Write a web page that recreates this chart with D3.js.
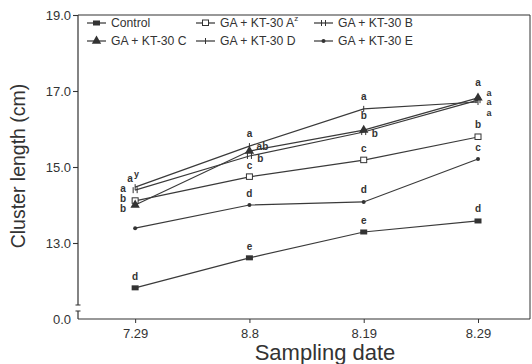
<!DOCTYPE html>
<html><head><meta charset="utf-8">
<script src="https://cdn.jsdelivr.net/npm/d3@7"></script>
<style>
html,body{margin:0;padding:0;background:#fff;}
svg{display:block;font-family:"Liberation Sans",Arial,sans-serif;}
</style></head>
<body><svg id="c" width="532" height="364"></svg>
<script>
// ---- data ----
const dates = ["7.29", "8.8", "8.19", "8.29"];
const seriesNames = ["Control", "GA+KT-30 A", "GA+KT-30 B", "GA+KT-30 C", "GA+KT-30 D", "GA+KT-30 E"];
const controlVals = [11.82, 12.61, 13.29, 13.58];
const aVals = [14.11, 14.74, 15.18, 15.79];
const bVals = [14.39, 15.29, 15.92, 16.76];
const cVals = [14.00, 15.42, 15.97, 16.82];
const dVals = [14.47, 15.55, 16.53, 16.71];
const eVals = [13.39, 14.00, 14.08, 15.21];
const controlLetters = ["d", "e", "e", "d"];
const aLetters = ["b", "c", "c", "b"];
const bLetters = ["a", "b", "b", "a"];
const cLetters = ["b", "ab", "b", "a"];
const dLetters = ["a", "a", "a", "a"];
const eLetters = ["", "d", "d", "c"];
const yTicks = [11, 13, 15, 17, 19];
const yTickText = ["0.0", "13.0", "15.0", "17.0", "19.0"];

// ---- layout / style ----
const L = 78, R = 530, T = 15, B = 319;
const ink = "#333";
const svg = d3.select("#c");
const x = d3.scaleLinear().domain([-0.5, 3.455]).range([L, R]);
const y = d3.scaleLinear().domain([11, 19]).range([B, T]);

const series = [
  {name: seriesNames[0], vals: controlVals, let: controlLetters, mk: "square"},
  {name: seriesNames[1], vals: aVals, let: aLetters, mk: "open"},
  {name: seriesNames[2], vals: bVals, let: bLetters, mk: "double"},
  {name: seriesNames[3], vals: cVals, let: cLetters, mk: "tri"},
  {name: seriesNames[4], vals: dVals, let: dLetters, mk: "plus"},
  {name: seriesNames[5], vals: eVals, let: eLetters, mk: "dot"}
];
// letter placement: [dx, dy] relative to point (baseline)
const letterPos = {
  "0": [[0,-8],[0,-8],[0,-8],[0,-9]],
  "1": [[-12,1],[0,-8],[0,-8],[0,-9]],
  "2": [[-12,2],[11,6],[11,5],[11,-4]],
  "3": [[-12,7],[13,-1],[0,-11],[0,-12]],
  "4": [[-2,-5],[0,-9],[0,-9],[11,14]],
  "5": [[0,-8],[0,-8],[0,-9],[0,-8]]
};

// frame
svg.append("line").attr("x1", L).attr("x2", R).attr("y1", T).attr("y2", T)
  .attr("stroke", ink).attr("stroke-width", 1.2);
svg.append("line").attr("x1", R).attr("x2", R).attr("y1", T).attr("y2", B)
  .attr("stroke", ink).attr("stroke-width", 1);

// y axis with break
const ya = svg.append("g").attr("transform", `translate(${L},0)`)
  .call(d3.axisLeft(y).tickValues(yTicks).tickSize(5).tickSizeOuter(0)
    .tickFormat((d, i) => yTickText[i]));
ya.select(".domain").remove();
ya.selectAll(".tick line").attr("stroke", ink).attr("stroke-width", 1.1)
  .filter(d => d === 11).remove();
ya.selectAll(".tick text").attr("font-size", 13).attr("fill", ink).attr("x", -7)
  .attr("font-family", "Liberation Sans, Arial, sans-serif");
const brkTop = 305, brkBot = 311;
svg.append("path").attr("d", `M${L},${T}V${brkTop}M${L-2.5},${brkTop}H${L+2.5}M${L-2.5},${brkBot}H${L+2.5}M${L},${brkBot}V${B}`)
  .attr("stroke", ink).attr("stroke-width", 1.2).attr("fill", "none");

// x axis
const xa = svg.append("g").attr("transform", `translate(0,${B})`)
  .call(d3.axisBottom(x).tickValues(d3.range(dates.length)).tickSize(4).tickSizeOuter(0)
    .tickFormat(i => dates[i]));
xa.select(".domain").attr("stroke", ink).attr("stroke-width", 1.2)
  .attr("d", `M${L},0H${R}`);
xa.selectAll(".tick line").attr("stroke", ink);
xa.selectAll(".tick text").attr("font-size", 13).attr("fill", ink).attr("dy", "0.9em")
  .attr("font-family", "Liberation Sans, Arial, sans-serif");

// titles
svg.append("text").attr("x", 325).attr("y", 360).attr("text-anchor", "middle")
  .attr("font-size", 22).attr("fill", ink).text("Sampling date");
svg.append("text").attr("transform", `translate(25,${(T + B) / 2 - 1}) rotate(-90)`)
  .attr("text-anchor", "middle").attr("font-size", 19.5).attr("fill", ink).text("Cluster length (cm)");

// marker drawing
function marker(g, type, cx, cy) {
  if (type === "square") {
    g.append("rect").attr("x", cx - 3.5).attr("y", cy - 2.5).attr("width", 7).attr("height", 5).attr("fill", ink);
  } else if (type === "open") {
    g.append("rect").attr("x", cx - 3).attr("y", cy - 3).attr("width", 6).attr("height", 5.5)
      .attr("fill", "#fff").attr("stroke", ink).attr("stroke-width", 1);
  } else if (type === "double") {
    g.append("path").attr("d", `M${cx-2},${cy-3}V${cy+3}M${cx+2},${cy-3}V${cy+3}`)
      .attr("stroke", ink).attr("stroke-width", 1);
  } else if (type === "tri") {
    g.append("path").attr("d", d3.symbol(d3.symbolTriangle, 38)()).attr("transform", `translate(${cx},${cy})`).attr("fill", ink);
  } else if (type === "plus") {
    g.append("path").attr("d", `M${cx},${cy-3}V${cy+3}`).attr("stroke", ink).attr("stroke-width", 1);
  } else if (type === "dot") {
    g.append("circle").attr("cx", cx).attr("cy", cy).attr("r", 2).attr("fill", ink);
  }
}

// lines
const line = d3.line().x((d, i) => x(i)).y(d => y(d));
const plot = svg.append("g");
series.forEach(s => {
  plot.append("path").attr("d", line(s.vals)).attr("fill", "none")
    .attr("stroke", "#3a3a3a").attr("stroke-width", 1.2);
});
series.forEach(s => {
  s.vals.forEach((v, i) => marker(plot, s.mk, x(i), y(v)));
});
// letters
series.forEach((s, si) => {
  s.vals.forEach((v, i) => {
    const t = s.let[i];
    if (!t) return;
    const p = letterPos[si][i];
    const tx = plot.append("text").attr("x", x(i) + p[0]).attr("y", y(v) + p[1])
      .attr("text-anchor", "middle").attr("font-size", i === 3 && p[0] > 0 ? 9 : 10).attr("font-weight", "bold")
      .attr("fill", ink).text(t);
    if (si === 4 && i === 0) tx.append("tspan").attr("dy", -5).attr("dx", 1).attr("font-size", 9).text("y");
  });
});
// extra stacked letter at 8.29
plot.append("text").attr("x", x(3) + 11).attr("y", y(cVals[3]) + 7).attr("text-anchor", "middle")
  .attr("font-size", 9).attr("font-weight", "bold").attr("fill", ink).text("a");

// legend
const legendItems = [
  {s: 0, lx: 87, tx: 111, ty: 27},
  {s: 1, lx: 196, tx: 220, ty: 27, sup: "z"},
  {s: 2, lx: 314, tx: 338, ty: 27},
  {s: 3, lx: 87, tx: 111, ty: 45},
  {s: 4, lx: 196, tx: 220, ty: 45},
  {s: 5, lx: 314, tx: 338, ty: 45}
];
const lg = svg.append("g");
legendItems.forEach(it => {
  const s = series[it.s];
  lg.append("line").attr("x1", it.lx).attr("x2", it.lx + 19).attr("y1", it.ty - 4).attr("y2", it.ty - 4)
    .attr("stroke", ink).attr("stroke-width", 1.2);
  marker(lg, s.mk, it.lx + 9.5, it.ty - 4);
  const label = s.name.replace("GA+KT-30", "GA + KT-30");
  const t = lg.append("text").attr("x", it.tx).attr("y", it.ty).attr("font-size", 12.2).attr("fill", ink).text(label);
  if (it.sup) t.append("tspan").attr("dy", -6).attr("font-size", 8).text(it.sup);
});
</script>
</body></html>
